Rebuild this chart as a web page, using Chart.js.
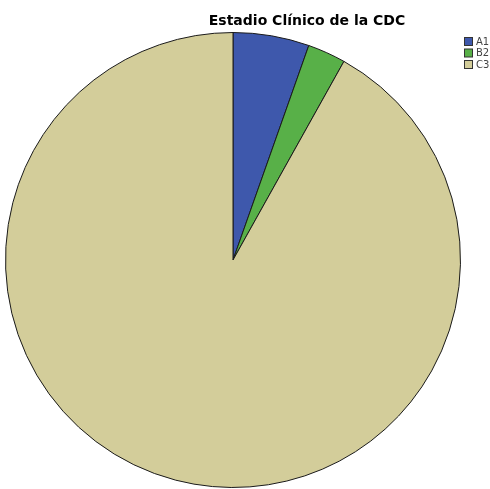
<!DOCTYPE html>
<html>
<head>
<meta charset="utf-8">
<script src="https://cdn.jsdelivr.net/npm/chart.js@4/dist/chart.umd.min.js"></script>
<style>
  html, body { margin: 0; padding: 0; background: #fff; }
  #wrap { width: 490px; height: 489px; position: relative; }
</style>
</head>
<body>
<div id="wrap"><canvas id="chart"></canvas></div>
<script>
var titleText = 'Estadio Clínico de la CDC';
var labels = ['A1', 'B2', 'C3'];
var counts = [2, 1, 34];
var colors = ['#3e58ac', '#58b048', '#d3cd9a'];

// title + small legend in the top right, drawn by hand
const sideBits = {
    id: 'sideBits',
    afterDraw(chart) {
        const ctx = chart.ctx;
        ctx.save();
        ctx.fillStyle = '#000';
        ctx.font = 'bold 14px "DejaVu Sans"';
        ctx.textAlign = 'center';
        ctx.textBaseline = 'alphabetic';
        ctx.fillText(titleText, 307, 25);

        ctx.font = '10px "DejaVu Sans"';
        ctx.textAlign = 'left';
        ctx.textBaseline = 'middle';
        labels.forEach((lab, i) => {
            let y = 37 + i * 11.5;
            ctx.fillStyle = colors[i];
            ctx.fillRect(464.5, y + 0.5, 8, 8);
            ctx.strokeStyle = '#333';
            ctx.lineWidth = 1;
            ctx.strokeRect(464.5, y + 0.5, 8, 8);
            ctx.fillStyle = '#444';
            ctx.fillText(lab, 476, y + 5);
        });
        ctx.restore();
    }
};

var chart = new Chart(document.getElementById('chart'), {
    type: 'pie',
    data: {
        labels: labels,
        datasets: [{
            data: counts,
            backgroundColor: colors,
            borderColor: '#1a1a1a',
            borderWidth: 1
        }]
    },
    options: {
        responsive: true,
        maintainAspectRatio: false,
        animation: false,
        layout: { padding: { left: 4, right: 28, top: 32, bottom: 1 } },
        plugins: {
            legend: { display: false },
            title: { display: false },
            tooltip: { enabled: false }
        }
    },
    plugins: [sideBits]
});
</script>
</body>
</html>
